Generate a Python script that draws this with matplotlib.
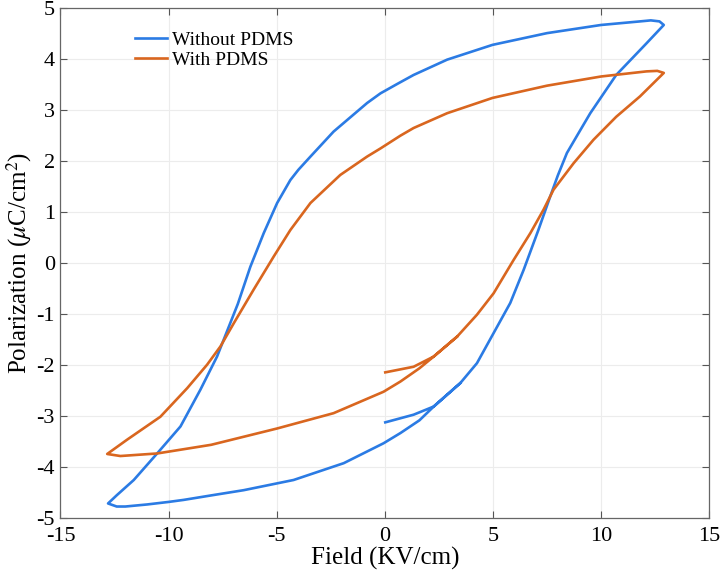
import numpy as np
import matplotlib
matplotlib.use("Agg")
from matplotlib import pyplot as plt

# Without PDMS (blue loop), read off the picture as one path
field_wo = [0.02, 1.33, 2.26, 3.49, 4.26, 5.03, 5.8, 6.42, 7.1, 7.65, 8.0, 8.42, 9.0, 9.5, 10.7, 12.1, 12.9,
            12.7, 12.3, 11.8, 10.0, 7.5, 4.98, 2.88, 1.33, 0.6, -0.2, -0.82, -2.37, -3.44, -4.0, -4.37,
            -4.98, -5.6, -6.22, -6.8, -7.76, -8.53, -9.45, -10.53, -11.61, -12.4, -12.8,
            -12.4, -12.0, -11.0, -10.0, -9.3, -8.0, -6.53, -4.22, -1.9, -0.06, 0.72, 1.6, 2.26, 3.49]
pol_wo = [-3.12, -2.97, -2.81, -2.35, -1.96, -1.37, -0.78, -0.13, 0.65, 1.31, 1.72, 2.16, 2.58, 2.94, 3.69, 4.31, 4.67,
          4.74, 4.76, 4.74, 4.67, 4.51, 4.28, 3.99, 3.69, 3.52, 3.33, 3.14, 2.58, 2.09, 1.83, 1.63,
          1.18, 0.59, -0.07, -0.8, -1.83, -2.48, -3.2, -3.73, -4.25, -4.55, -4.71,
          -4.77, -4.77, -4.73, -4.68, -4.64, -4.55, -4.45, -4.25, -3.92, -3.53, -3.33, -3.08, -2.81, -2.35]

# With PDMS (orange loop)
field_w = [0.02, 1.33, 2.26, 3.34, 4.26, 5.03, 5.95, 6.73, 7.34, 7.8, 8.73, 9.65, 10.7, 11.8, 12.9,
           12.6, 12.1, 10.0, 7.5, 4.98, 2.88, 1.33, 0.72, -0.2, -0.82, -2.06, -3.44, -4.37, -5.14,
           -6.07, -6.99, -7.6, -8.22, -9.14, -10.38, -11.92, -12.84,
           -12.23, -10.53, -8.03, -4.98, -2.37, -0.06, 0.72, 1.6, 2.26, 3.34]
pol_w = [-2.14, -2.03, -1.83, -1.44, -1.01, -0.59, 0.06, 0.59, 1.05, 1.44, 1.96, 2.42, 2.87, 3.27, 3.73,
         3.77, 3.76, 3.66, 3.48, 3.24, 2.94, 2.65, 2.5, 2.25, 2.09, 1.73, 1.18, 0.65, 0.13,
         -0.52, -1.18, -1.63, -1.99, -2.45, -3.01, -3.46, -3.74,
         -3.78, -3.73, -3.56, -3.24, -2.94, -2.52, -2.32, -2.06, -1.83, -1.44]

plt.rcParams['font.family'] = ['Liberation Serif', 'DejaVu Serif']
plt.rcParams['mathtext.fontset'] = 'stix'
plt.rcParams['axes.unicode_minus'] = False

fig = plt.figure(figsize=(7.2, 5.81), dpi=100)
ax = fig.add_axes([0.084, 0.108, 0.901, 0.878])

ax.plot(field_wo, pol_wo, color='#2b7be4', linewidth=1.9, solid_joinstyle='round',
        label='Without PDMS')
ax.plot(field_w, pol_w, color='#d9661f', linewidth=1.9, solid_joinstyle='round',
        label='With PDMS')

ax.set_xlim(-15, 15)
ax.set_ylim(-5, 5)
ax.set_xticks(np.arange(-15, 16, 5))
ax.set_yticks(np.arange(-5, 6, 1))
ax.grid(True, color='#ececec', linewidth=0.8)
ax.set_axisbelow(True)
ax.tick_params(direction='in', top=True, right=True, labelsize=16, length=5,
               color='#555555', pad=4)
ax.tick_params(axis='x', pad=6)
for s in ax.spines.values():
    s.set_color('#666666')
    s.set_linewidth(0.9)

ax.set_xlabel('Field (KV/cm)', fontsize=18, labelpad=1)
ax.set_ylabel(r'Polarization ($\mu$C/cm$^2$)', fontsize=18, labelpad=2)

leg = ax.legend(loc='upper left', bbox_to_anchor=(0.115, 0.955), fontsize=14, frameon=False,
                borderpad=0, borderaxespad=0, handlelength=1.65, handletextpad=0.25,
                labelspacing=0.15)

fig.savefig('out.png', dpi=100)
